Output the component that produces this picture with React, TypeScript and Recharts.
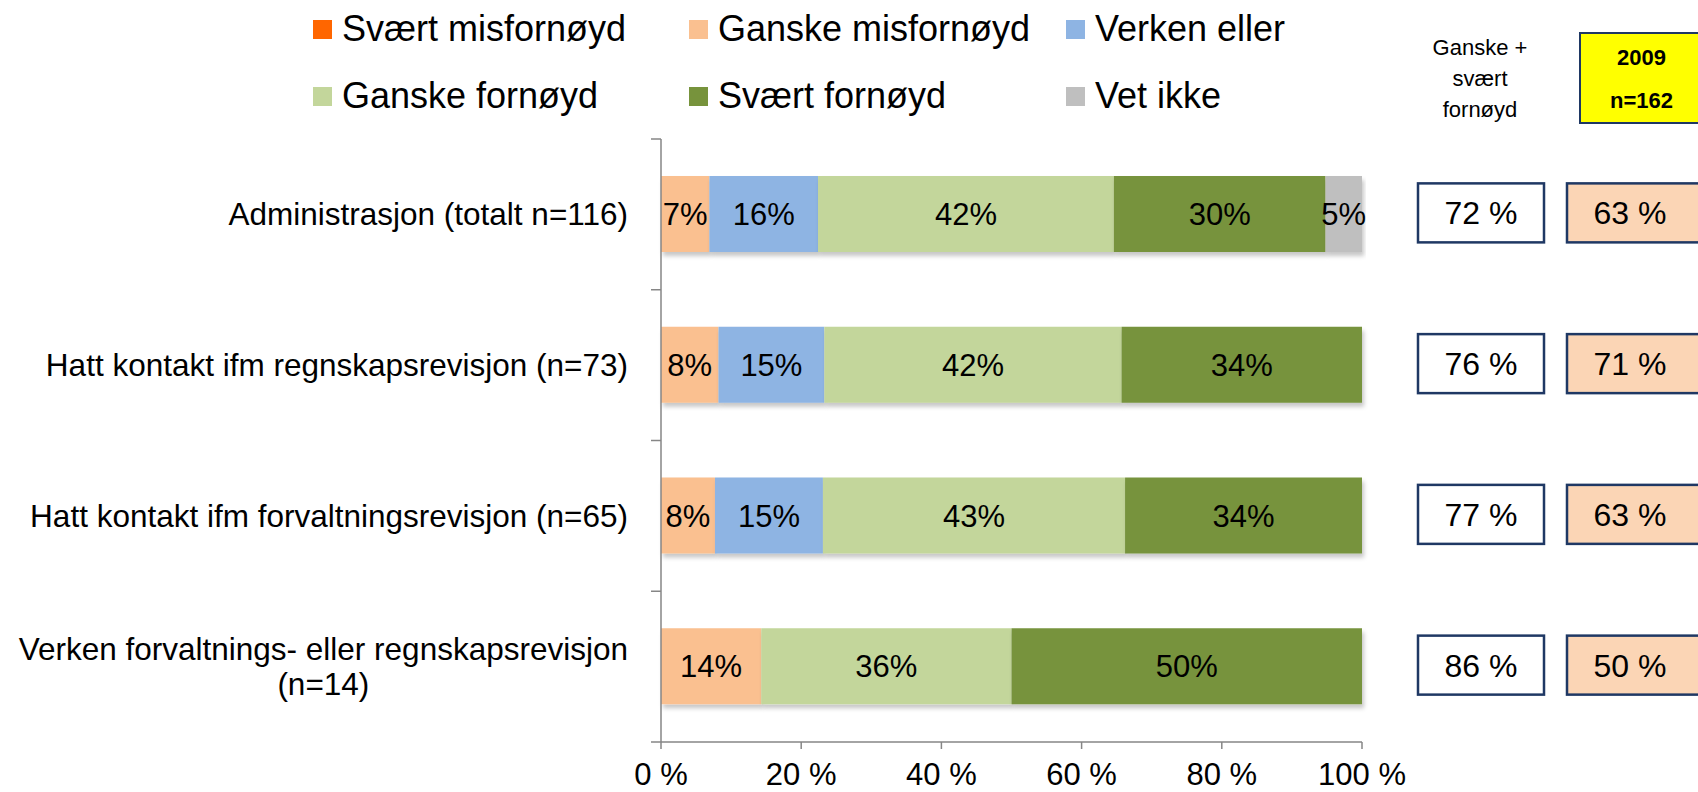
import React from "react";
import { BarChart, Bar, XAxis, YAxis, LabelList, Legend } from "recharts";

const categories = [
  "Administrasjon (totalt n=116)",
  "Hatt kontakt ifm regnskapsrevisjon (n=73)",
  "Hatt kontakt ifm forvaltningsrevisjon (n=65)",
  "Verken forvaltnings- eller regnskapsrevisjon\n(n=14)",
];

const seriesNames = [
  "Svært misfornøyd",
  "Ganske misfornøyd",
  "Verken eller",
  "Ganske fornøyd",
  "Svært fornøyd",
  "Vet ikke",
];
const seriesColors = ["#FF6600", "#FAC090", "#8EB4E3", "#C3D69B", "#77933C", "#BFBFBF"];

// share in percent per category
const svaertMisfornoyd = [0, 0, 0, 0];
const ganskeMisfornoyd = [6.9, 8.2, 7.7, 14.3];
const verkenEller = [15.5, 15.1, 15.4, 0];
const ganskeFornoyd = [42.2, 42.4, 43.1, 35.7];
const svaertFornoyd = [30.2, 34.3, 33.8, 50.0];
const vetIkke = [5.2, 0, 0, 0];

// right-hand boxes
const totalFornoyd = [72, 76, 77, 86];
const fornoyd2009 = [63, 71, 63, 50];

const xTicks = [0, 20, 40, 60, 80, 100];

const seriesValues = [svaertMisfornoyd, ganskeMisfornoyd, verkenEller, ganskeFornoyd, svaertFornoyd, vetIkke];
const seriesKeys = seriesValues.map((_, i) => `s${i}`);

const data = categories.map((name, i) => {
  const row: Record<string, string | number> = { name, total: totalFornoyd[i], y2009: fornoyd2009[i] };
  seriesValues.forEach((vals, j) => {
    row[seriesKeys[j]] = vals[i];
  });
  return row;
});

const W = 1698;
const H = 792;
const TOP = 139;
const XAXIS_H = 50;
const BAND = (H - TOP - XAXIS_H) / categories.length;
const FONT = "'Liberation Sans', Arial, sans-serif";
const AXIS_COLOR = "#868686";
const NAVY = "#1F3864";

function CategoryTick(props: any) {
  const { x, y, payload, index } = props;
  const lines = String(payload.value).split("\n");
  const axisX = x + 33;
  let anchorX = x;
  let anchor: "end" | "middle" = "end";
  if (lines.length > 1) {
    // center the lines under each other, right edge at x
    const ctx = document.createElement("canvas").getContext("2d");
    let maxW = 0;
    if (ctx) {
      ctx.font = `31.5px ${FONT}`;
      lines.forEach((l) => (maxW = Math.max(maxW, ctx.measureText(l).width)));
    }
    anchorX = x - maxW / 2;
    anchor = "middle";
  }
  return (
    <g>
      <line x1={axisX - 10} x2={axisX} y1={y - BAND / 2} y2={y - BAND / 2} stroke={AXIS_COLOR} strokeWidth={1.5} />
      {index === categories.length - 1 && (
        <line x1={axisX - 10} x2={axisX} y1={y + BAND / 2} y2={y + BAND / 2} stroke={AXIS_COLOR} strokeWidth={1.5} />
      )}
      <text textAnchor={anchor} fontSize={31.5} fill="#000" fontFamily={FONT}>
        {lines.map((l, i) => (
          <tspan key={i} x={anchorX} y={y + 11 + (i - (lines.length - 1) / 2) * 35}>
            {l}
          </tspan>
        ))}
      </text>
    </g>
  );
}

function BoxTick(props: any) {
  const { x, y, index } = props;
  const row = data[index];
  const bx = x + 56;
  const px = x + 205;
  return (
    <g fontFamily={FONT}>
      <rect x={bx} y={y - 31} width={126} height={59} fill="#fff" stroke={NAVY} strokeWidth={2.5} />
      <text x={bx + 63} y={y + 10} textAnchor="middle" fontSize={32} fill="#000">
        {`${row.total} %`}
      </text>
      <rect x={px} y={y - 31} width={140} height={59} fill="#FBD5B5" stroke={NAVY} strokeWidth={2.5} />
      <text x={px + 63} y={y + 10} textAnchor="middle" fontSize={32} fill="#000">
        {`${row.y2009} %`}
      </text>
    </g>
  );
}

function LegendContent() {
  const colX = [313, 689, 1066];
  const rowY = [29, 96];
  return (
    <div style={{ position: "relative", width: W, height: 130, fontFamily: FONT }}>
      {seriesNames.map((name, i) => {
        const left = colX[i % 3];
        const top = rowY[Math.floor(i / 3)];
        return (
          <div key={name} style={{ position: "absolute", left, top: top - 22, height: 44, display: "flex", alignItems: "center" }}>
            <span style={{ width: 19, height: 19, background: seriesColors[i], display: "inline-block", marginRight: 10 }} />
            <span style={{ fontSize: 36, color: "#000", whiteSpace: "nowrap" }}>{name}</span>
          </div>
        );
      })}
      <div
        style={{
          position: "absolute",
          left: 1400,
          top: 32,
          width: 160,
          textAlign: "center",
          fontSize: 22,
          lineHeight: "31px",
          color: "#000",
        }}
      >
        Ganske +<br />svært<br />fornøyd
      </div>
      <div
        style={{
          position: "absolute",
          left: 1579,
          top: 32,
          width: 125,
          height: 92,
          boxSizing: "border-box",
          background: "#FFFF00",
          border: `2.5px solid ${NAVY}`,
          textAlign: "center",
          fontWeight: "bold",
          fontSize: 22,
          color: "#000",
        }}
      >
        <div style={{ position: "absolute", left: 0, right: 0, top: 11 }}>2009</div>
        <div style={{ position: "absolute", left: 0, right: 0, top: 54 }}>n=162</div>
      </div>
    </div>
  );
}

export default function App() {
  return (
    <div style={{ position: "absolute", left: 0, top: 0, width: W, height: H, overflow: "hidden", background: "#fff", fontFamily: FONT }}>
      <BarChart
        width={W}
        height={H}
        data={data}
        layout="vertical"
        margin={{ top: TOP, right: 0, bottom: 0, left: 0 }}
        barCategoryGap="25%"
      >
        <defs>
          <filter id="barShadow" x="-5%" y="-20%" width="115%" height="150%">
            <feDropShadow dx={2} dy={4} stdDeviation={2} floodColor="#000" floodOpacity={0.22} />
          </filter>
        </defs>
        <XAxis
          type="number"
          domain={[0, 100]}
          ticks={xTicks}
          height={XAXIS_H}
          tickFormatter={(v: number) => `${v} %`}
          tick={{ fontSize: 31, fill: "#000", fontFamily: FONT }}
          tickSize={7}
          tickMargin={14}
          axisLine={{ stroke: AXIS_COLOR, strokeWidth: 1.5 }}
          tickLine={{ stroke: AXIS_COLOR, strokeWidth: 1.5 }}
        />
        <YAxis
          yAxisId="left"
          type="category"
          dataKey="name"
          width={661}
          tickSize={0}
          tickMargin={33}
          tickLine={false}
          axisLine={{ stroke: AXIS_COLOR, strokeWidth: 1.5 }}
          tick={<CategoryTick />}
          interval={0}
        />
        <YAxis
          yAxisId="right"
          orientation="right"
          type="category"
          dataKey="name"
          width={336}
          tickSize={0}
          tickMargin={0}
          tickLine={false}
          axisLine={false}
          tick={<BoxTick />}
          interval={0}
        />
        <Legend
          layout="vertical"
          align="center"
          verticalAlign="middle"
          wrapperStyle={{ top: 0, left: 0, width: W, height: 130 }}
          content={<LegendContent />}
        />
        {seriesKeys.map((key, i) => (
          <Bar
            key={key}
            yAxisId="left"
            dataKey={key}
            name={seriesNames[i]}
            stackId="a"
            fill={seriesColors[i]}
            barSize={76}
            isAnimationActive={false}
            style={{ filter: "url(#barShadow)" }}
          >
            <LabelList
              dataKey={key}
              position="center"
              fill="#000"
              fontSize={31}
              fontFamily={FONT}
              formatter={(v: any) => (Number(v) > 0 ? `${Math.round(Number(v))}%` : "")}
            />
          </Bar>
        ))}
      </BarChart>
    </div>
  );
}
